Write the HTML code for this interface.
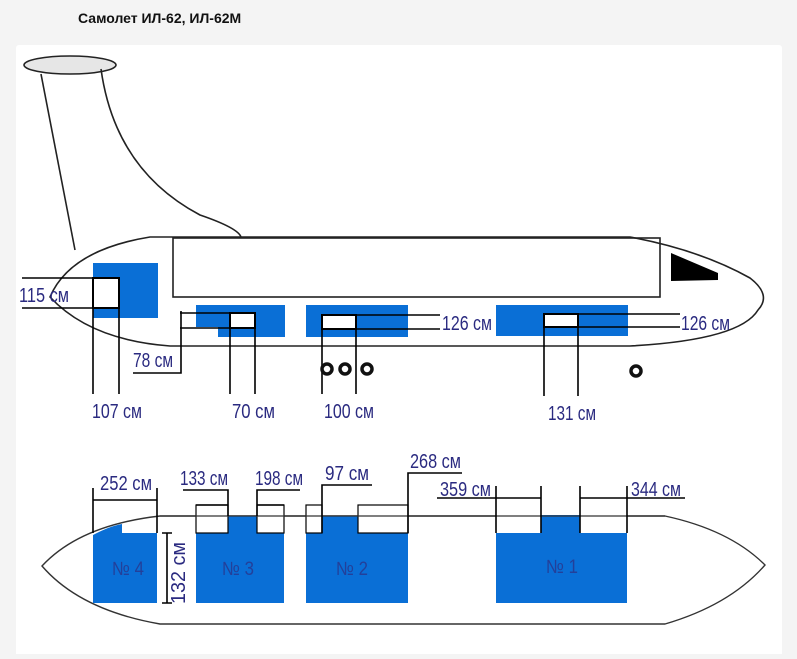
<!DOCTYPE html>
<html><head><meta charset="utf-8"><style>
body{margin:0;background:#f4f4f4;width:797px;height:654px;overflow:hidden;font-family:"Liberation Sans",sans-serif}
</style></head><body>
<svg width="797" height="654" viewBox="0 0 797 654" xmlns="http://www.w3.org/2000/svg">
<rect x="0" y="0" width="797" height="654" fill="#f4f4f4"/>
<rect x="16" y="45" width="766" height="620" rx="3" fill="#fff"/>
<text x="78" y="23" font-size="14" font-weight="bold" fill="#111">Самолет ИЛ-62, ИЛ-62М</text>
<g fill="none" stroke="#222" stroke-width="1.6">
<ellipse cx="70" cy="65" rx="46" ry="9" fill="#e6e6e6"/>
<path d="M41 74 Q58 160 75 250"/>
<path d="M101 69 Q115 170 200 215 Q238 228 241 237"/>
<path d="M150 237 L630 237 Q700 250 750 278 Q772 295 758 310 Q740 340 630 346 L170 346 Q90 340 50 297 Q70 250 150 237 Z" fill="#fff"/>
<rect x="173" y="238" width="487" height="59"/>
</g>
<polygon points="671,253 718,273 718,280 671,281" fill="#000"/>
<g fill="#0a6fd6">
<rect x="93" y="263" width="65" height="55"/>
<path d="M196 305 H285 V337 H218 V327 H196 Z"/>
<rect x="306" y="305" width="102" height="32"/>
<rect x="496" y="305" width="132" height="31"/>
</g>
<g fill="#fff" stroke="#000" stroke-width="2">
<rect x="93" y="278" width="26" height="30"/>
<rect x="230" y="313" width="25" height="15"/>
<rect x="322" y="315" width="34" height="14"/>
<rect x="544" y="314" width="34" height="13"/>
</g>
<g stroke="#000" stroke-width="1.6" fill="none">
<path d="M22 278 H119 M22 308 H119 M93 308 V394 M119 308 V394"/>
<path d="M180 313 H230 M180 328 H230 M181 311 V373 H133 M230 328 V394 M255 328 V394"/>
<path d="M356 315 H440 M356 329 H440 M322 329 V394 M356 329 V394"/>
<path d="M578 314 H680 M578 327 H680 M544 327 V396 M578 327 V396"/>
</g>
<g fill="#fff" stroke="#111" stroke-width="3.5">
<circle cx="327" cy="369" r="5"/><circle cx="345" cy="369" r="5"/><circle cx="367" cy="369" r="5"/><circle cx="636" cy="371" r="5"/>
</g>
<g font-size="20" fill="#2a2a80">
<text x="19" y="302" textLength="50" lengthAdjust="spacingAndGlyphs">115 см</text>
<text x="92" y="418" textLength="50" lengthAdjust="spacingAndGlyphs">107 см</text>
<text x="133" y="367" textLength="40" lengthAdjust="spacingAndGlyphs">78 см</text>
<text x="232" y="418" textLength="43" lengthAdjust="spacingAndGlyphs">70 см</text>
<text x="324" y="418" textLength="50" lengthAdjust="spacingAndGlyphs">100 см</text>
<text x="442" y="330" textLength="50" lengthAdjust="spacingAndGlyphs">126 см</text>
<text x="681" y="330" textLength="49" lengthAdjust="spacingAndGlyphs">126 см</text>
<text x="548" y="420" textLength="48" lengthAdjust="spacingAndGlyphs">131 см</text>
</g>
<!-- bottom -->
<path d="M160 516 L665 516 Q730 530 765 565 Q730 605 665 624 L160 624 Q80 610 42 566 Q80 525 160 516 Z" fill="#fff" stroke="#333" stroke-width="1.4"/>
<g fill="#0a6fd6">
<path d="M93 535 Q110 526 122 524 V533 H157 V603 H93 Z"/>
<rect x="196" y="516" width="88" height="87"/>
<rect x="306" y="516" width="102" height="87"/>
<rect x="496" y="515" width="131" height="88"/>
</g>
<g fill="#fff" stroke="#000" stroke-width="1.2">
<rect x="196" y="505" width="32" height="28"/>
<rect x="257" y="505" width="27" height="28"/>
<rect x="306" y="505" width="16" height="28"/>
<rect x="358" y="505" width="50" height="28"/>
<rect x="496" y="505" width="45" height="28" stroke="none"/>
<rect x="580" y="505" width="47" height="28" stroke="none"/>
</g>
<g stroke="#333" stroke-width="1.2" fill="none">
<path d="M160 516 H665"/>
</g>
<g stroke="#000" stroke-width="1.6" fill="none">
<path d="M93 488 V533 M157 488 V533 M93 500 H157"/>
<path d="M167 533 V603 M162 533 H172 M162 603 H172"/>
<path d="M183 490 H228 V516 M196 505 H228"/>
<path d="M300 490 H257 V516 M257 505 H284"/>
<path d="M372 485 H322 V533"/>
<path d="M462 473 H408 V533"/>
<path d="M437 498 H541 M496 486 V533 M541 486 V533"/>
<path d="M580 486 V533 M627 486 V533 M580 498 H685"/>
</g>
<g font-size="20" fill="#2a2a80">
<text x="100" y="490" textLength="52" lengthAdjust="spacingAndGlyphs">252 см</text>
<text x="180" y="485" textLength="48" lengthAdjust="spacingAndGlyphs">133 см</text>
<text x="255" y="485" textLength="48" lengthAdjust="spacingAndGlyphs">198 см</text>
<text x="325" y="480" textLength="44" lengthAdjust="spacingAndGlyphs">97 см</text>
<text x="410" y="468" textLength="51" lengthAdjust="spacingAndGlyphs">268 см</text>
<text x="440" y="496" textLength="51" lengthAdjust="spacingAndGlyphs">359 см</text>
<text x="631" y="496" textLength="50" lengthAdjust="spacingAndGlyphs">344 см</text>
<text transform="translate(185,604) rotate(-90)" textLength="62" lengthAdjust="spacingAndGlyphs">132 см</text>
</g>
<g font-size="19" fill="#23409a">
<text x="112" y="575" textLength="32" lengthAdjust="spacingAndGlyphs">№ 4</text>
<text x="222" y="575" textLength="32" lengthAdjust="spacingAndGlyphs">№ 3</text>
<text x="336" y="575" textLength="32" lengthAdjust="spacingAndGlyphs">№ 2</text>
<text x="546" y="573" textLength="32" lengthAdjust="spacingAndGlyphs">№ 1</text>
</g>
</svg>
</body></html>
